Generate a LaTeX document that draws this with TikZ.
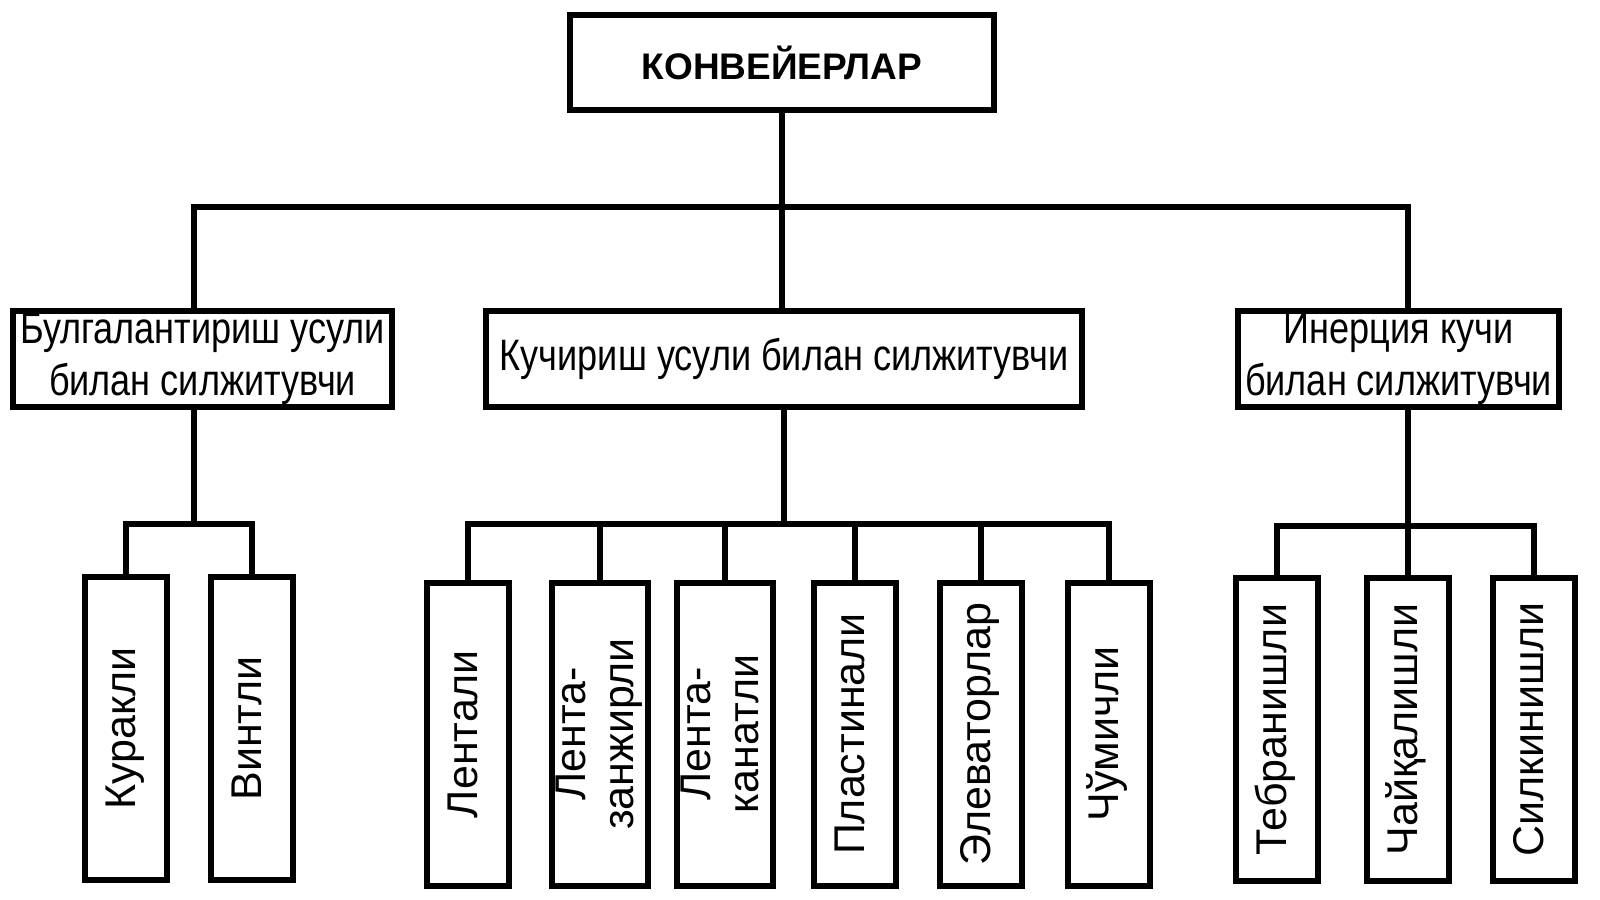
\documentclass[tikz,border=0pt]{standalone}
\usepackage{fontspec}
\setmainfont{Liberation Sans}
\newfontfamily\narrow{Liberation Sans}[FakeStretch=0.82]
\usepackage{graphicx}
\usepackage{tikz}
\usetikzlibrary{calc}
\tikzstyle{bx}  =[draw,line width=3pt,inner sep=0pt,align=center]
\tikzstyle{hd}  =[bx,minimum width=212pt,minimum height=47.75pt,font=\fontsize{18.5}{20}\selectfont\bfseries]
\tikzstyle{cls} =[bx,minimum height=48.25pt,font=\narrow\fontsize{22}{26}\selectfont]
\tikzstyle{lf}  =[bx,minimum width=40.75pt,minimum height=151.5pt,font=\fontsize{21.5}{24}\selectfont]
\tikzstyle{ln}  =[line width=3pt]
\newcommand\up[1]{\rotatebox{90}{\begin{tabular}{@{}c@{}}#1\end{tabular}}}

\begin{document}
\begin{tikzpicture}[x=1pt,y=1pt]
	\useasboundingbox (0,0) rectangle (800,-449.5);
	\node[hd] (conv) at (391,-31.25) {КОНВЕЙЕРЛАР};
	\node[cls,minimum width=189.75pt] (lft) at (101.25,-179.5) {Булгалантириш усули\\билан силжитувчи};
	\node[cls,minimum width=298.25pt] (mid) at (392,-179.5) {Кучириш усули билан силжитувчи};
	\node[cls,minimum width=160.75pt] (rgt) at (699.25,-179.5) {Инерция кучи\\билан силжитувчи};
	% left group
	\node[lf] (kur) at (63,-364.25)  {\up{Куракли}};
	\node[lf] (vin) at (126,-364.25) {\up{Винтли}};
	% middle group
	\node[lf] (len) at (234,-367)   {\up{Лентали}};
	\node[lf,minimum width=44.75pt] (zan) at (300,-367) {\up{Лента-\\занжирли}};
	\node[lf] (kan) at (362.5,-367) {\up{Лента-\\канатли}};
	\node[lf] (pla) at (427.5,-367) {\up{Пластинали}};
	\node[lf] (ele) at (490.5,-367) {\up{Элеваторлар}};
	\node[lf] (chu) at (554.5,-367) {\up{Чўмичли}};
	% right group
	\node[lf] (teb) at (638.5,-364.75) {\up{Тебранишли}};
	\node[lf] (cha) at (704,-364.75)   {\up{Чайқалишли}};
	\node[lf] (sil) at (767,-364.75)   {\up{Силкинишли}};
	% connectors
	\draw[ln] (conv.south) -- (conv.south |- mid.north);
	\draw[ln] ([xshift=-4.25pt]lft.north) -- ++(0,50.5) -| ([xshift=4.75pt]rgt.north);
	\draw[ln] ([xshift=-4.25pt]lft.south) -- ++(0,-57);
	\draw[ln] (kur.north) -- ++(0,25) -| (vin.north);
	\draw[ln] (mid.south) -- ++(0,-57);
	\draw[ln] (len.north) -- ++(0,28) -| (chu.north);
	\foreach \n in {zan,kan,pla,ele}
		\draw[ln] (\n.north) -- ++(0,28);
	\draw[ln] (cha.north |- rgt.south) -- (cha.north);
	\draw[ln] (teb.north) -- ++(0,24.5) -| (sil.north);
\end{tikzpicture}
\end{document}
